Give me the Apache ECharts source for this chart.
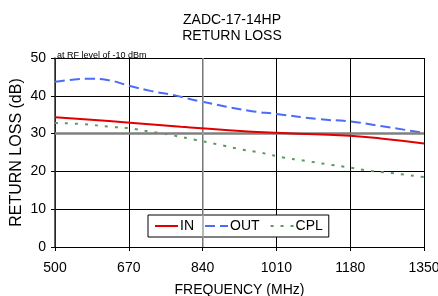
<!DOCTYPE html>
<html>
<head>
<meta charset="utf-8">
<script src="https://cdn.jsdelivr.net/npm/echarts@6/dist/echarts.min.js"></script>
<style>
  html, body { margin: 0; padding: 0; background: #fff; }
  #chart { width: 438px; height: 296px; }
</style>
</head>
<body>
<div id="chart"></div>
<script>
// frequency (MHz) / return loss (dB)
const inFreq = [500, 575, 673, 790, 900, 1010, 1100, 1180, 1250, 1350];
const inLoss = [34.3, 33.7, 32.9, 31.8, 30.9, 30.2, 29.8, 29.4, 28.7, 27.4];
const outFreq = [500, 545, 585, 620, 673, 720, 772, 840, 950, 1010, 1110, 1180, 1250, 1350];
const outLoss = [43.7, 44.3, 44.5, 44.2, 42.6, 41.3, 40.2, 38.4, 36.0, 35.2, 33.8, 33.2, 32.0, 30.2];
const cplFreq = [500, 565, 627, 673, 720, 773, 825, 872, 926, 976, 1026, 1076, 1126, 1175, 1222, 1272, 1350];
const cplLoss = [32.8, 32.5, 31.8, 31.4, 30.5, 29.5, 28.3, 27.2, 25.9, 24.9, 23.7, 22.8, 21.9, 21.1, 20.2, 19.6, 18.5];

const font = "Liberation Sans, Arial, sans-serif";
const chart = echarts.init(document.getElementById("chart"));

function pairs(xs, ys) {
  return xs.map((x, i) => [x, ys[i]]);
}

chart.setOption({
  animation: false,
  title: [
    {
      text: "ZADC-17-14HP\nRETURN LOSS",
      left: 227,
      top: 7,
      textAlign: "center",
      textStyle: { fontFamily: font, fontSize: 14, fontWeight: "normal", color: "#000", lineHeight: 16 },
    },
    {
      text: "at RF level of -10 dBm",
      left: 52,
      top: 46,
      textStyle: { fontFamily: font, fontSize: 9, fontWeight: "normal", color: "#000" },
    },
  ],
  grid: { left: 55, right: 14, top: 58, bottom: 49, outerBoundsMode: "none", containLabel: false },
  legend: {
    left: 148,
    top: 215,
    padding: [4, 6, 4, 6],
    itemGap: 10,
    itemWidth: 23,
    itemHeight: 10,
    borderColor: "#000",
    borderWidth: 1,
    backgroundColor: "#fff",
    itemStyle: { opacity: 0 },
    textStyle: { fontFamily: font, fontSize: 14, color: "#000", padding: [0, 0, 0, -3] },
    data: ["IN", "OUT", "CPL"],
  },
  xAxis: {
    type: "value",
    min: 500,
    max: 1350,
    interval: 170,
    name: "FREQUENCY (MHz)",
    nameLocation: "middle",
    nameGap: 36,
    nameTextStyle: { fontFamily: font, fontSize: 14, color: "#000" },
    axisLine: { lineStyle: { color: "#000", width: 1 } },
    axisTick: { show: true, length: 4, lineStyle: { color: "#000" } },
    axisLabel: { fontFamily: font, fontSize: 14, color: "#000", margin: 14, formatter: (v) => String(v) },
    splitLine: { show: true, lineStyle: { color: "#000", width: 1 } },
  },
  yAxis: {
    type: "value",
    min: 0,
    max: 50,
    interval: 10,
    name: "RETURN LOSS (dB)",
    nameLocation: "middle",
    nameGap: 30,
    nameMoveOverlap: false,
    nameTextStyle: { fontFamily: font, fontSize: 16, color: "#000" },
    axisLine: { show: true, lineStyle: { color: "#333", width: 1.5 } },
    axisTick: { show: true, length: 4, lineStyle: { color: "#000" } },
    axisLabel: { fontFamily: font, fontSize: 14, color: "#000", margin: 9 },
    splitLine: { show: true, lineStyle: { color: "#000", width: 1 } },
  },
  series: [
    {
      name: "grid",
      type: "line",
      data: [],
      silent: true,
      markLine: {
        silent: true,
        symbol: "none",
        label: { show: false },
        lineStyle: { color: "#808080", width: 2.5, type: "solid" },
        data: [{ yAxis: 30 }, { xAxis: 840, lineStyle: { width: 1.5, color: "#a0a0a0" } }],
      },
      z: 1,
    },
    {
      name: "IN",
      type: "line",
      smooth: true,
      symbol: "none",
      data: pairs(inFreq, inLoss),
      lineStyle: { color: "#e00000", width: 2 },
      itemStyle: { color: "#e00000" },
      z: 5,
    },
    {
      name: "OUT",
      type: "line",
      smooth: true,
      symbol: "none",
      data: pairs(outFreq, outLoss),
      lineStyle: { color: "#4a6cf7", width: 2, type: [10, 5] },
      itemStyle: { color: "#4a6cf7" },
      z: 4,
    },
    {
      name: "CPL",
      type: "line",
      smooth: true,
      symbol: "none",
      data: pairs(cplFreq, cplLoss),
      lineStyle: { color: "#5a9a5a", width: 2, type: [3, 7] },
      itemStyle: { color: "#5a9a5a" },
      z: 3,
    },
  ],
});
</script>
</body>
</html>
